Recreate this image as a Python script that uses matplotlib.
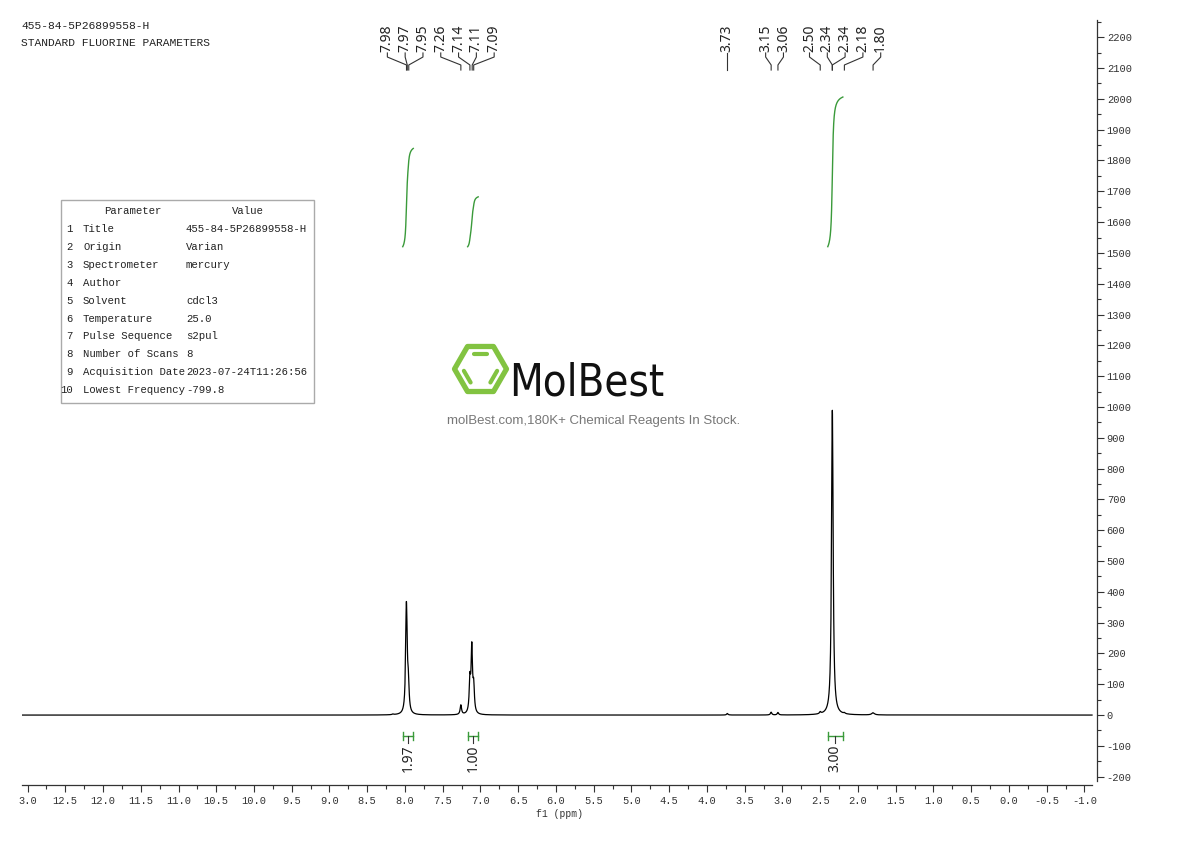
import numpy as np
import matplotlib
matplotlib.use("Agg")
import matplotlib.pyplot as plt
from matplotlib import font_manager
from matplotlib.font_manager import FontProperties
from matplotlib.ticker import FixedLocator, MultipleLocator
from matplotlib.patches import Rectangle, Polygon

# ---------------- data ----------------
header_lines = ["455-84-5P26899558-H", "STANDARD FLUORINE PARAMETERS"]

# spectral lines (ppm, height, half width)
line_ppm = [8.16, 7.983, 7.975, 7.955, 7.26, 7.140, 7.115, 7.090,
            3.73, 3.15, 3.06, 2.50, 2.342, 2.337, 2.18, 1.80]
line_height = [2, 274, 118, 82, 31, 102, 208, 81,
               5, 9, 8, 6, 516, 516, 3, 7]
line_hwhm = [0.012, 0.011, 0.011, 0.011, 0.011, 0.011, 0.011, 0.011,
             0.011, 0.011, 0.011, 0.011, 0.012, 0.012, 0.011, 0.022]

# peak picking labels
peak_labels = [7.98, 7.97, 7.95, 7.26, 7.14, 7.11, 7.09,
               3.73, 3.15, 3.06, 2.50, 2.34, 2.34, 2.18, 1.80]

# integrals: (from ppm, to ppm, value)
integ_from = [8.03, 7.17, 2.40]
integ_to = [7.89, 7.03, 2.20]
integ_value = [1.97, 1.00, 3.00]
integ_base = 1520
integ_scale = 162

x_ticks = [13.0, 12.5, 12.0, 11.5, 11.0, 10.5, 10.0, 9.5, 9.0, 8.5, 8.0, 7.5,
           7.0, 6.5, 6.0, 5.5, 5.0, 4.5, 4.0, 3.5, 3.0, 2.5, 2.0, 1.5, 1.0,
           0.5, 0.0, -0.5, -1.0]
x_tick_labels = ["3.0", "12.5", "12.0", "11.5", "11.0", "10.5", "10.0", "9.5",
                 "9.0", "8.5", "8.0", "7.5", "7.0", "6.5", "6.0", "5.5", "5.0",
                 "4.5", "4.0", "3.5", "3.0", "2.5", "2.0", "1.5", "1.0", "0.5",
                 "0.0", "-0.5", "-1.0"]
y_ticks = list(range(-200, 2201, 100))

param_names = ["Title", "Origin", "Spectrometer", "Author", "Solvent",
               "Temperature", "Pulse Sequence", "Number of Scans",
               "Acquisition Date", "Lowest Frequency"]
param_values = ["455-84-5P26899558-H", "Varian", "mercury", "", "cdcl3",
                "25.0", "s2pul", "8", "2023-07-24T11:26:56", "-799.8"]

# ---------------- style ----------------
MONO = "Liberation Mono"
SANS = "Noto Sans"
plt.rcParams["font.family"] = [MONO, "DejaVu Sans"]
plt.rcParams["axes.unicode_minus"] = False

W, H = 1190, 841
fig = plt.figure(figsize=(W / 100, H / 100), dpi=100)
ax = fig.add_axes([22 / W, 1 - 785 / H, (1097 - 22) / W, (785 - 20) / H])
XL, XR = 13.073, -1.166
ax.set_xlim(XL, XR)
ax.set_ylim(-227, 2256)

# spectrum from line list
ppm = np.arange(-1.10, 13.073, 0.0005)
spec = np.zeros_like(ppm)
for p, h, w in zip(line_ppm, line_height, line_hwhm):
    spec += h / (1 + ((ppm - p) / w) ** 2)
ax.plot(ppm, spec, color="black", lw=0.9)

green = "#3a9a3a"
# integrals
for a, b, v in zip(integ_from, integ_to, integ_value):
    m = (ppm <= a) & (ppm >= b)
    xs = ppm[m][::-1]
    ys = spec[m][::-1]
    cum = np.cumsum(ys)
    cum = cum / cum[-1]
    ax.plot(xs, integ_base + v * integ_scale * cum, color=green, lw=1.0)
    yb = -68
    ax.plot([a, b], [yb, yb], color=green, lw=1.0)
    ax.plot([a, a], [yb - 12, yb + 12], color=green, lw=1.0)
    ax.plot([b, b], [yb - 12, yb + 12], color=green, lw=1.0)
    xc = (a + b) / 2
    ax.plot([xc, xc], [yb, -92], color="#333333", lw=0.8)
    ax.text(xc, -97, f"{v:.2f}", rotation=90, ha="center", va="top",
            fontsize=10, family=[SANS, "DejaVu Sans"], color="#222222")

# peak labels with spreading
ax_w_px = 1097 - 22
ppm_per_px = (XL - XR) / ax_w_px
d = 17.8 * ppm_per_px
vals = sorted(peak_labels, reverse=True)
clusters = [[v] for v in vals]


def place(cl):
    c = 0.25 * np.mean(cl) + 0.75 * 0.5 * (max(cl) + min(cl))
    n = len(cl)
    return [c + d * ((n - 1) / 2 - k) for k in range(n)]


changed = True
while changed:
    changed = False
    for i in range(len(clusters) - 1):
        p1 = place(clusters[i])
        p2 = place(clusters[i + 1])
        if p1[-1] - p2[0] < d - 1e-9:
            clusters[i] = clusters[i] + clusters[i + 1]
            del clusters[i + 1]
            changed = True
            break

tr = ax.get_xaxis_transform()
for cl in clusters:
    pos = place(cl)
    for pk, lx in zip(cl, pos):
        ax.text(lx, 0.9582, f"{pk:.2f}", rotation=90, ha="center", va="bottom",
                fontsize=10, family=[SANS, "DejaVu Sans"], color="#222222",
                transform=tr)
        ax.plot([lx, lx, pk, pk], [0.9569, 0.9516, 0.9412, 0.9346],
                color="#333333", lw=0.8, transform=tr, clip_on=False)

# axes styling
for s in ["left", "top"]:
    ax.spines[s].set_visible(False)
ax.spines["bottom"].set_bounds(XL, -1.10)
ax.spines["right"].set_bounds(-215, 2256)
for s in ["bottom", "right"]:
    ax.spines[s].set_color("#333333")
    ax.spines[s].set_linewidth(0.9)
ax.yaxis.tick_right()
ax.xaxis.set_major_locator(FixedLocator(x_ticks))
ax.set_xticklabels(x_tick_labels)
ax.xaxis.set_minor_locator(MultipleLocator(0.25))
ax.yaxis.set_major_locator(FixedLocator(y_ticks))
ax.yaxis.set_minor_locator(MultipleLocator(50))
ax.tick_params(axis="both", which="major", direction="out", length=5,
               width=0.8, colors="#333333", labelsize=7.5)
ax.tick_params(axis="both", which="minor", direction="out", length=3,
               width=0.8, colors="#333333")
ax.tick_params(axis="x", which="major", pad=3)
ax.tick_params(axis="y", which="major", pad=2)
ax.set_xlabel("f1 (ppm)", fontsize=7, labelpad=2, color="#333333")

# ---------------- overlay (header, table, watermark) ----------------
ov = fig.add_axes([0, 0, 1, 1])
ov.set_xlim(0, W)
ov.set_ylim(H, 0)
ov.set_axis_off()

for i, t in enumerate(header_lines):
    ov.text(21, 26 + 17 * i, t, fontsize=8.1, family=MONO, color="#222222",
            va="center", ha="left")

ov.add_patch(Rectangle((61, 200), 253, 203, fill=False, edgecolor="#aaaaaa",
                       lw=1.0))
ov.text(133, 211, "Parameter", fontsize=7.7, family=MONO, color="#222222",
        ha="center", va="center")
ov.text(248, 211, "Value", fontsize=7.7, family=MONO, color="#222222",
        ha="center", va="center")
for i, (n_, v_) in enumerate(zip(param_names, param_values)):
    y = 229 + 17.9 * i
    ov.text(73, y, str(i + 1), fontsize=7.7, family=MONO, color="#222222",
            ha="right", va="center")
    ov.text(83, y, n_, fontsize=7.7, family=MONO, color="#222222",
            ha="left", va="center")
    ov.text(186, y, v_, fontsize=7.7, family=MONO, color="#222222",
            ha="left", va="center")

# logo
lime = "#82c341"
cx, cy, R = 480.5, 369.0, 26.0
ang = np.deg2rad(np.arange(0, 360, 60))
vx = cx + R * np.cos(ang)
vy = cy + R * np.sin(ang)
ov.add_patch(Polygon(np.column_stack([vx, vy]), closed=True, fill=False,
                     edgecolor=lime, lw=3.8, joinstyle="round"))
for i, j in [(4, 5), (2, 3), (0, 1)]:
    p1 = np.array([cx + 0.68 * (vx[i] - cx), cy + 0.68 * (vy[i] - cy)])
    p2 = np.array([cx + 0.68 * (vx[j] - cx), cy + 0.68 * (vy[j] - cy)])
    q1 = p1 + 0.12 * (p2 - p1)
    q2 = p1 + 0.88 * (p2 - p1)
    ov.plot([q1[0], q2[0]], [q1[1], q2[1]], color=lime, lw=3.0,
            solid_capstyle="round")

# condensed font for the logo word, if one is installed
cond = None
for f in font_manager.fontManager.ttflist:
    st = str(f.stretch).lower()
    nm = f.name
    wt = f.weight
    try:
        wt_ok = int(wt) <= 500
    except (TypeError, ValueError):
        wt_ok = str(wt).lower() in ("normal", "regular", "book", "light", "medium")
    if wt_ok and f.style == "normal" and (
            "condensed" in st or "Condensed" in nm or "Narrow" in nm):
        cond = f.fname
        break
if cond:
    fp = FontProperties(fname=cond, size=40)
else:
    fp = FontProperties(family="Liberation Sans", size=40)
logo_txt = ov.text(509, 395, "MolBest", fontproperties=fp, color="#111111",
                   ha="left", va="baseline")
fig.canvas.draw()
bb = logo_txt.get_window_extent(fig.canvas.get_renderer())
logo_txt.set_fontsize(40 * 155.0 / bb.width)

ov.text(594, 421, "molBest.com,180K+ Chemical Reagents In Stock.",
        fontsize=9.5, family="Liberation Sans", color="#777777",
        ha="center", va="center")

fig.savefig("out.png", dpi=100)
